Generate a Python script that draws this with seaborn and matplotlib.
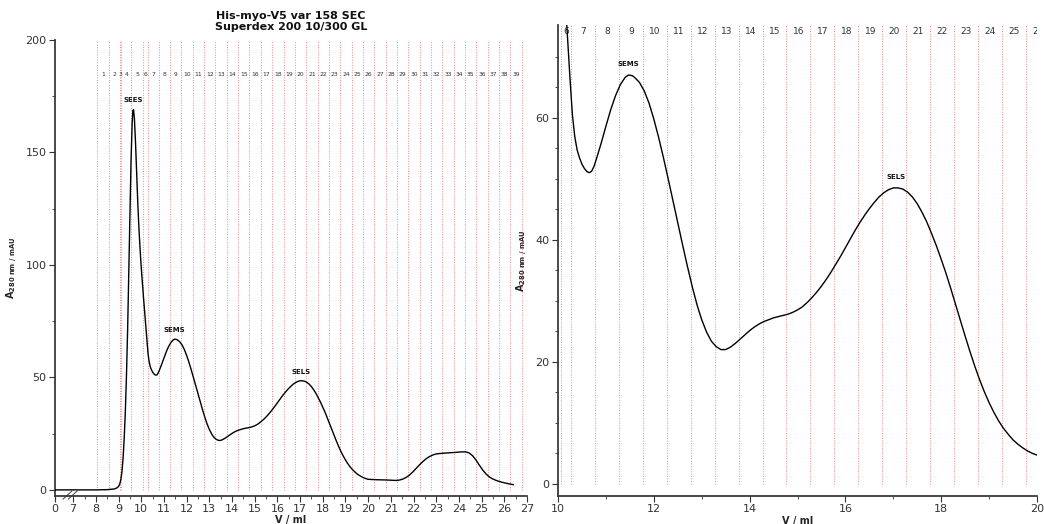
import numpy as np
import matplotlib
matplotlib.use("Agg")
import matplotlib.pyplot as plt
from matplotlib import transforms
import seaborn as sns

# UV trace (A280, mAU) against elution volume (ml)
volume_ml = [0.0, 7.0, 8.0, 8.5, 8.8, 8.9, 9.0, 9.05, 9.1, 9.15, 9.2, 9.25, 9.3, 9.35,
             9.4, 9.45, 9.5, 9.55, 9.6, 9.63, 9.66, 9.7, 9.75, 9.8, 9.85, 9.9, 9.95,
             10.0, 10.05, 10.1, 10.15, 10.2, 10.25, 10.3, 10.35, 10.4, 10.45, 10.5,
             10.55, 10.6, 10.65, 10.7, 10.75, 10.8, 10.9, 11.0, 11.1, 11.2, 11.3, 11.4,
             11.47, 11.55, 11.6, 11.7, 11.8, 11.9, 12.0, 12.1, 12.2, 12.3, 12.4, 12.5,
             12.6, 12.7, 12.8, 12.9, 13.0, 13.1, 13.2, 13.3, 13.4, 13.5, 13.6, 13.7,
             13.8, 13.9, 14.0, 14.1, 14.2, 14.3, 14.4, 14.5, 14.6, 14.7, 14.8, 14.9,
             15.0, 15.1, 15.2, 15.3, 15.4, 15.5, 15.6, 15.7, 15.8, 15.9, 16.0, 16.1,
             16.2, 16.3, 16.4, 16.5, 16.6, 16.7, 16.8, 16.9, 17.0, 17.1, 17.2, 17.3,
             17.4, 17.5, 17.6, 17.7, 17.8, 17.9, 18.0, 18.1, 18.2, 18.3, 18.4, 18.5,
             18.6, 18.7, 18.8, 18.9, 19.0, 19.1, 19.2, 19.3, 19.4, 19.5, 19.6, 19.7,
             19.8, 19.9, 20.0, 20.2, 20.4, 20.6, 20.8, 21.0, 21.2, 21.35, 21.5, 21.65,
             21.8, 21.95, 22.1, 22.25, 22.4, 22.55, 22.7, 22.85, 23.0, 23.3, 23.6, 23.9,
             24.1, 24.3, 24.45, 24.6, 24.75, 24.9, 25.05, 25.2, 25.35, 25.5, 25.7, 25.9,
             26.1, 26.3, 26.4]
a280_mau = [0.0, 0.0, 0.0, 0.1, 0.4, 0.7, 1.5, 2.5, 4.5, 8.0, 14.0, 23.0, 35.0, 51.0,
            71.0, 95.0, 121.0, 146.0, 163.0, 168.5, 169.0, 165.0, 154.0, 140.0, 127.0,
            116.0, 107.0, 99.0, 92.0, 85.5, 79.5, 73.0, 66.5, 60.5, 56.9, 54.7, 53.4,
            52.4, 51.7, 51.2, 51.0, 51.2, 52.0, 53.2, 55.8, 58.6, 61.3, 63.6, 65.4,
            66.6, 67.0, 66.9, 66.6, 65.8, 64.4, 62.4, 59.8, 56.8, 53.5, 50.0, 46.4,
            42.8, 39.2, 35.7, 32.4, 29.4, 26.9, 24.9, 23.4, 22.5, 22.0, 22.0, 22.4,
            23.0, 23.7, 24.4, 25.1, 25.7, 26.2, 26.6, 26.9, 27.2, 27.4, 27.6, 27.8,
            28.1, 28.5, 29.0, 29.7, 30.5, 31.4, 32.4, 33.5, 34.7, 36.0, 37.3, 38.7,
            40.1, 41.5, 42.8, 44.0, 45.1, 46.1, 47.0, 47.7, 48.2, 48.5, 48.5, 48.3,
            47.8, 47.0, 45.9, 44.5, 42.9, 41.0, 39.0, 36.8, 34.5, 32.0, 29.4, 26.8,
            24.2, 21.7, 19.3, 17.1, 15.1, 13.3, 11.7, 10.3, 9.1, 8.1, 7.2, 6.5, 5.9,
            5.4, 5.0, 4.7, 4.6, 4.5, 4.45, 4.4, 4.3, 4.2, 4.3, 4.7, 5.4, 6.4, 7.8,
            9.4, 11.0, 12.5, 13.8, 14.8, 15.5, 16.0, 16.3, 16.5, 16.7, 16.9, 16.9,
            16.4, 15.2, 13.3, 11.0, 8.8, 7.0, 5.7, 4.8, 4.0, 3.4, 2.9, 2.5, 2.3]

# Fraction collector boundaries (ml) and fraction numbers
frac_edges = [8.07, 8.57, 9.07, 9.10, 9.57, 10.07, 10.28, 10.77, 11.27, 11.77,
              12.27, 12.77, 13.27, 13.77, 14.27, 14.77, 15.27, 15.77, 16.27, 16.77,
              17.27, 17.77, 18.27, 18.77, 19.27, 19.77, 20.27, 20.77, 21.27, 21.77,
              22.27, 22.77, 23.27, 23.77, 24.27, 24.77, 25.27, 25.77, 26.27, 26.77]
frac_labels = [str(n) for n in range(1, 40)]

# Named peaks
peak_names = ["SEES", "SEMS", "SELS"]
peak_volume = [9.65, 11.47, 17.05]
peak_height = [169.0, 67.0, 48.5]

left_xticks = [0, 7, 8, 9, 10, 11, 12, 13, 14, 15, 16, 17, 18, 19, 20, 21, 22, 23,
               24, 25, 26, 27]
left_yticks = [0, 50, 100, 150, 200]
right_xticks = [10, 12, 14, 16, 18, 20]
right_yticks = [0, 20, 40, 60]

sns.set_theme(style="ticks")
plt.rcParams["font.family"] = ["DejaVu Sans"]
plt.rcParams["axes.edgecolor"] = "#333333"
plt.rcParams["xtick.color"] = "#333333"
plt.rcParams["ytick.color"] = "#333333"
plt.rcParams["text.color"] = "#111111"

fig = plt.figure(figsize=(10.44, 5.24), dpi=100)
W, H = 1044.0, 524.0
ax1 = fig.add_axes([55 / W, 1 - 495.5 / H, 472 / W, 455.5 / H])
ax2 = fig.add_axes([558 / W, 1 - 496 / H, 479 / W, 471 / H])

# Compressed segment of the volume axis between 0 and 7 ml
BREAK = 7.0
GAP = 0.8


def squeeze(v):
    v = np.asarray(v, dtype=float)
    return np.where(v < BREAK, BREAK - GAP + v * GAP / BREAK, v)


def unsqueeze(u):
    u = np.asarray(u, dtype=float)
    return np.where(u < BREAK, (u - (BREAK - GAP)) * BREAK / GAP, u)


ax1.set_xscale("function", functions=(squeeze, unsqueeze))

frac_mid = [(a + b) / 2 for a, b in zip(frac_edges[:-1], frac_edges[1:])]

panels = [
    (ax1, (0, 27), (-2.5, 200), 4.3, 0.925, 4.5),
    (ax2, (10, 20), (-2.0, 75.2), 6.5, 0.987, 6.0),
]
for ax, xlim, ylim, fsize, ylab_pos, pk_off in panels:
    ax.set_xlim(*xlim)
    ax.set_ylim(*ylim)
    ax.vlines(frac_edges, 0, ylim[1], colors="#f07070", linestyles=(0, (1, 1.6)),
              linewidth=0.7, alpha=0.85, zorder=1)
    trans = transforms.blended_transform_factory(ax.transData, ax.transAxes)
    for m, lab in zip(frac_mid, frac_labels):
        if xlim[0] <= m <= xlim[1] + 0.05:
            ax.text(m, ylab_pos, lab, transform=trans, ha="center", va="center",
                    fontsize=fsize, color="#333333", clip_on=True, zorder=2)
    sns.lineplot(x=volume_ml, y=a280_mau, ax=ax, color="black", linewidth=1.0,
                 sort=False, zorder=3)
    for name, v, h in zip(peak_names, peak_volume, peak_height):
        if xlim[0] <= v <= xlim[1]:
            ax.annotate(name, (v, h), xytext=(0, pk_off), textcoords="offset points",
                        ha="center", va="bottom", fontsize=5, fontweight="bold")
    ax.set_xlabel("V / ml", fontsize=7, fontweight="bold", labelpad=1)
    ax.set_ylabel(r"$\mathbf{A}_{\mathbf{280\ nm\ /\ mAU}}$", fontsize=7, labelpad=4)
    ax.tick_params(axis="both", labelsize=8, length=4, width=0.8, pad=2)
    ax.tick_params(axis="both", which="minor", length=2, width=0.6)
    sns.despine(ax=ax)

ax1.set_xticks(left_xticks)
ax1.set_xticklabels([str(t) for t in left_xticks])
ax1.set_xticks([t + 0.5 for t in left_xticks[1:-1]], minor=True)
ax1.set_yticks(left_yticks)
ax1.set_yticks([25, 75, 125, 175], minor=True)
ax1.set_title("His-myo-V5 var 158 SEC\nSuperdex 200 10/300 GL", fontsize=8,
              fontweight="bold", pad=7, linespacing=1.1)

ax2.set_xticks(right_xticks)
ax2.set_xticks([11, 13, 15, 17, 19], minor=True)
ax2.set_yticks(right_yticks)
ax2.set_yticks([5, 10, 15, 25, 30, 35, 45, 50, 55, 65, 70], minor=True)

# Break marks on the volume axis
for x0 in (0.017, 0.028):
    ax1.plot([x0, x0 + 0.019], [-0.008, 0.010], transform=ax1.transAxes,
             color="#444444", linewidth=0.7, clip_on=False)

fig.savefig("out.png", dpi=100)
